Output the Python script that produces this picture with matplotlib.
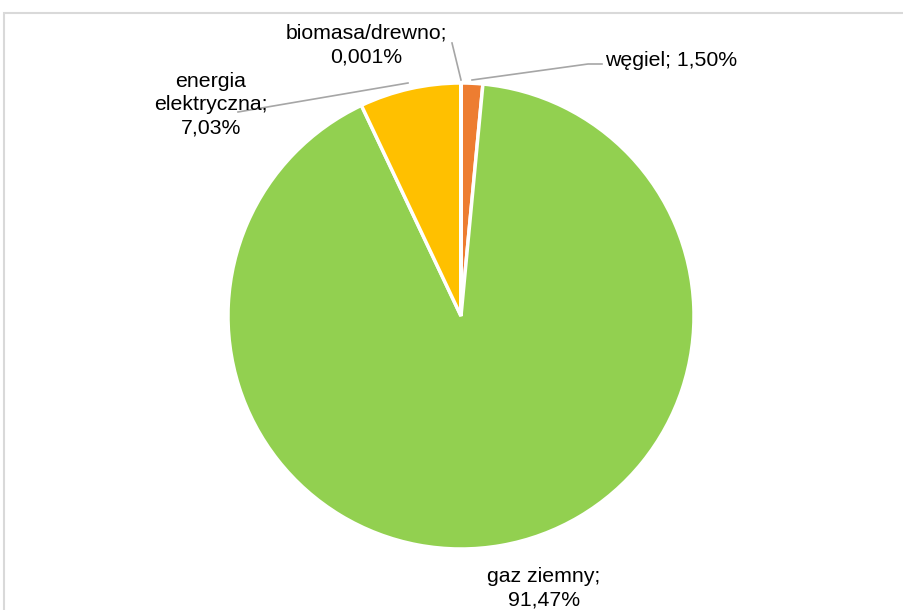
import matplotlib
matplotlib.use("Agg")
from matplotlib import pyplot as plt
from matplotlib.patches import Rectangle

names = ["węgiel", "gaz ziemny", "energia\nelektryczna", "biomasa/drewno"]
shares = [1.50, 91.47, 7.03, 0.001]
decimals = [2, 2, 2, 3]
colors = ["#ED7D31", "#92D050", "#FFC000", "#5B9BD5"]

W, H = 904, 610
plt.rcParams["font.family"] = ["Liberation Sans", "DejaVu Sans"]

fig = plt.figure(figsize=(W / 100, H / 100), dpi=100)
ax = fig.add_axes([0, 0, 1, 1])
ax.set_xlim(0, W)
ax.set_ylim(0, H)
ax.set_aspect("equal")
ax.axis("off")


def py(y):
    # picture y (top down) -> axes y
    return H - y


# chart frame, cut off on right and bottom
ax.add_patch(Rectangle((4, py(700)), 1000, 687, fill=False,
                       edgecolor="#D9D9D9", linewidth=1.5))

ax.pie(shares, colors=colors, startangle=90, counterclock=False,
       center=(461, py(316)), radius=233,
       wedgeprops=dict(edgecolor="white", linewidth=2.5))
ax.set_xlim(0, W)
ax.set_ylim(0, H)

labels = []
for n, s, d in zip(names, shares, decimals):
    v = f"{s:.{d}f}".replace(".", ",")
    labels.append(f"{n};\n{v}%")
labels[0] = labels[0].replace("\n", " ")

fs = 15.3
ls = 1.28
ax.text(605, py(60), labels[0], ha="left", va="center", fontsize=fs)
ax.text(544, py(588), labels[1], ha="center", va="center", fontsize=fs,
        linespacing=ls)
ax.text(211, py(105), labels[2], ha="center", va="center", fontsize=fs,
        linespacing=ls)
ax.text(366, py(45), labels[3], ha="center", va="center", fontsize=fs,
        linespacing=ls)

lc = "#A6A6A6"
ax.plot([472, 588, 602], [py(80), py(64), py(64)], color=lc, lw=1.2)
ax.plot([238, 408], [py(112), py(83)], color=lc, lw=1.2)
ax.plot([452, 461], [py(43), py(80)], color=lc, lw=1.2)

plt.savefig("out.png", dpi=100)
